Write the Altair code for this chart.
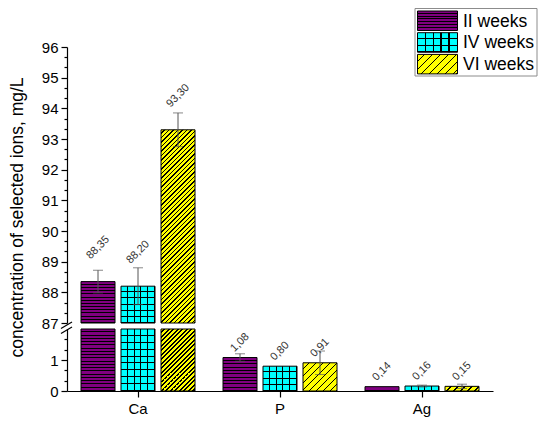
import math
import altair as alt
import pandas as pd

# ---------------- data ----------------
ions = ["Ca", "P", "Ag"]
series = ["II weeks", "IV weeks", "VI weeks"]
ca_vals = [88.35, 88.20, 93.30]
p_vals = [1.08, 0.80, 0.91]
ag_vals = [0.14, 0.16, 0.15]
ca_err = [0.37, 0.60, 0.55]
p_err = [0.12, 0.00, 0.38]
ag_err = [0.00, 0.03, 0.07]

colors = {"II weeks": "#800080", "IV weeks": "#00FFFF", "VI weeks": "#FFFF00"}
FONT = "Liberation Sans"

rows = []
for ion, vals, errs in [("Ca", ca_vals, ca_err), ("P", p_vals, p_err), ("Ag", ag_vals, ag_err)]:
    for s, v, e in zip(series, vals, errs):
        rows.append(dict(ion=ion, series=s, value=v, err=e, lo=v - e, hi=v + e,
                         label=f"{v:.2f}".replace(".", ",")))
df = pd.DataFrame(rows)

# ---------------- layout ----------------
W = 426
UP_DOM, UP_H = [87, 96], 276
LO_DOM, LO_H = [0, 2], 62
BAR_W = W / 3 / 3.55 * 0.85

x_scale = alt.Scale(domain=ions, paddingInner=0, paddingOuter=0)
xo_scale = alt.Scale(domain=series, paddingInner=0.15, paddingOuter=0.35)

TRANSP = "rgba(0,0,0,0)"


def band_stops(n, lw, base, line):
    stops = []
    for i in range(n):
        a, b = i / n, (i + 1) / n
        m = max(a, b - lw)
        stops += [(base, a), (base, m), (line, m), (line, b)]
    return [alt.GradientStop(color=c, offset=min(1, max(0, o))) for c, o in stops]


def hlines(h, base, period):
    n = max(1, round(h / period))
    return alt.LinearGradient(gradient="linear", x1=0, y1=0, x2=0, y2=1,
                              stops=band_stops(n, min(1.0 / max(h, 1), 0.5 / n), base, "black"))


def vlines(w, base, period):
    n = max(1, round(w / period))
    return alt.LinearGradient(gradient="linear", x1=0, y1=0, x2=1, y2=0,
                              stops=band_stops(n, 1.0 / w, base, "black"))


def diag(w, h, base, spacing):
    tot = w + h
    step = spacing / tot
    lw = 1.1 * math.sqrt(2) / tot
    stops = []
    t = 0.0
    while t < 1:
        a, b = t, min(1, t + step)
        m = max(a, b - lw)
        stops += [(base, a), (base, m), ("black", m), ("black", b)]
        t += step
    k = (w + h) / (w * w + h * h)
    return alt.LinearGradient(gradient="linear", x1=0, y1=0, x2=w * k, y2=h * k,
                              stops=[alt.GradientStop(color=c, offset=min(1, o)) for c, o in stops])


def tick_axis(values, title=None, **kw):
    test = "abs(datum.value - round(datum.value)) < 0.01"
    args = dict(values=values, grid=False,
                labelExpr=f"{test} ? format(datum.value, 'd') : ''",
                tickSize={"condition": {"test": test, "value": 6}, "value": 3},
                tickColor="black", domainColor="black", labelColor="black",
                labelFontSize=15, labelPadding=3, domainWidth=1.2, tickWidth=1.2,
                title=title)
    args.update(kw)
    return alt.Axis(**args)


up_axis = tick_axis([87 + i / 3 for i in range(28)],
                    title="concentration of selected ions, mg/L",
                    titleFontSize=17.5, titleFontWeight="normal", titleColor="black",
                    titleY=170, titlePadding=15)
lo_axis = tick_axis([i / 3 for i in range(6)])
lo_x_axis = alt.Axis(title=None, labelAngle=0, labelFontSize=15, labelColor="black",
                     tickSize=6, tickColor="black", domainColor="black", domainWidth=1.2,
                     tickWidth=1.2, labelPadding=4)


def panel(dom, H, xaxis, yaxis, is_upper):
    ppu = H / (dom[1] - dom[0])
    y_scale = alt.Scale(domain=dom, clamp=True, nice=False, zero=False)
    X = alt.X("ion:N", scale=x_scale, axis=xaxis)
    XO = alt.XOffset("series:N", scale=xo_scale)

    def Y(field):
        return alt.Y(f"{field}:Q", scale=y_scale, axis=yaxis)

    base = dom[0]
    sub = df[df.value > dom[0]]
    layers = []
    for _, r in sub.iterrows():
        one = pd.DataFrame([r])
        h = (min(r.value, dom[1]) - base) * ppu
        col = colors[r.series]
        enc = dict(x=X, xOffset=XO, y=Y("value"), y2=alt.Y2Datum(base))
        if r.series == "II weeks":
            fill = hlines(h, col, 3.3)
        elif r.series == "IV weeks":
            fill = hlines(h, col, 6.6)
        else:
            fill = diag(BAR_W, h, col, 4.5 if r.ion == "Ca" else 7.0)
        layers.append(alt.Chart(one).mark_bar(fill=fill, stroke="black", strokeWidth=1)
                      .encode(**enc))
        if r.series == "IV weeks":
            layers.append(alt.Chart(one).mark_bar(fill=vlines(BAR_W, TRANSP, 6.8), strokeWidth=0)
                          .encode(**enc))
    # error bars & labels for values inside this panel
    inside = df[(df.value > dom[0]) & (df.value < dom[1])]
    eb = inside[inside.err > 0]
    layers.append(alt.Chart(eb).mark_rule(color="#555555", strokeWidth=1)
                  .encode(x=X, xOffset=XO, y=Y("lo"), y2="hi:Q"))
    for f in ["lo", "hi"]:
        layers.append(alt.Chart(eb).mark_tick(color="#555555", thickness=1, size=10)
                      .encode(x=X, xOffset=XO, y=Y(f)))
    S = 34 if is_upper else 15
    d = S / math.sqrt(2)
    layers.append(alt.Chart(inside).mark_text(angle=315, align="center", baseline="middle",
                                               dx=d, dy=-d, fontSize=11, color="#333333")
                  .encode(x=X, xOffset=XO, y=Y("value"), text="label:N"))
    return layers


upper_layers = panel(UP_DOM, UP_H, None, up_axis, True)

# legend (drawn by hand so that the swatches carry the patterns)
leg_x, leg_y = 348, -38.5
one = pd.DataFrame({"k": [0]})
upper_layers.append(alt.Chart(one).mark_rect(fill="white", stroke="#8c8c8c", strokeWidth=1)
                    .encode(x=alt.value(leg_x), x2=alt.value(leg_x + 122),
                            y=alt.value(leg_y), y2=alt.value(leg_y + 67.5)))
for i, s in enumerate(series):
    sy = leg_y + 2.5 + 21.7 * i
    sw, sh = 40, 19.5
    pos = dict(x=alt.value(leg_x + 2.5), x2=alt.value(leg_x + 2.5 + sw),
               y=alt.value(sy), y2=alt.value(sy + sh))
    if s == "II weeks":
        fill = hlines(sh, colors[s], 2.8)
    elif s == "IV weeks":
        fill = hlines(sh, colors[s], 6.5)
    else:
        fill = diag(sw, sh, colors[s], 8.0)
    upper_layers.append(alt.Chart(one).mark_rect(fill=fill, stroke="black", strokeWidth=1).encode(**pos))
    if s == "IV weeks":
        upper_layers.append(alt.Chart(one).mark_rect(fill=vlines(sw, TRANSP, 8), strokeWidth=0).encode(**pos))
    upper_layers.append(alt.Chart(one).mark_text(text=s, align="left", baseline="middle",
                                                 fontSize=17.5, color="black")
                        .encode(x=alt.value(leg_x + 48), y=alt.value(sy + sh / 2 + 1)))

lower_layers = panel(LO_DOM, LO_H, lo_x_axis, lo_axis, False)
# axis-break marks
for off in [0, 5]:
    lower_layers.append(alt.Chart(one).mark_rule(color="black", strokeWidth=1.2)
                        .encode(x=alt.value(-6), x2=alt.value(5),
                                y=alt.value(off - 0.5), y2=alt.value(off - 7)))

upper = alt.layer(*upper_layers).properties(width=W, height=UP_H)
lower = alt.layer(*lower_layers).properties(width=W, height=LO_H)

chart = (alt.vconcat(upper, lower, spacing=6, bounds="flush")
         .properties(padding={"left": 0, "top": 0, "right": 4, "bottom": 4}, background="white")
         .configure(font=FONT)
         .configure_view(stroke=None))

chart.save("out.html", embed_options={"renderer": "svg", "actions": False})
